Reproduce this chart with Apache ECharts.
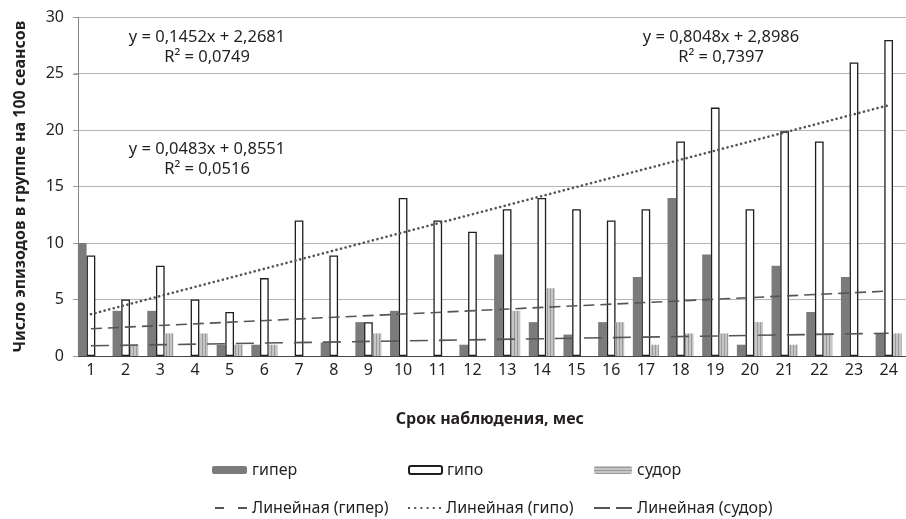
<!DOCTYPE html>
<html>
<head>
<meta charset="utf-8">
<script src="https://cdn.jsdelivr.net/npm/echarts@6/dist/echarts.min.js"></script>
<style>html,body{margin:0;padding:0;background:#fff;}#c{width:906px;height:519px;}</style>
</head>
<body>
<div id="c"></div>
<script>
// ---- data ----
const months = ['1','2','3','4','5','6','7','8','9','10','11','12','13','14','15','16','17','18','19','20','21','22','23','24'];
const giper = [10, 4, 4, 0, 1, 1, 0, 1.2, 3, 4, 0, 1, 9, 3, 1.9, 3, 7, 14, 9, 1, 8, 3.9, 7, 2];
const gipo  = [8.9, 5, 8, 5, 3.9, 6.9, 12, 8.9, 3, 14, 12, 11, 13, 14, 13, 12, 13, 19, 22, 13, 19.9, 19, 26, 28];
const sudor = [0, 1, 2, 2, 1, 1, 0, 0, 2, 0, 0, 0, 4, 6, 0, 3, 1, 2, 2, 3, 1, 2, 0, 2];
// trend-line coefficients shown on the chart [slope, intercept]
const trendGiper = [0.1452, 2.2681];
const trendGipo  = [0.8048, 2.8986];
const trendSudor = [0.0483, 0.8551];
const eqGiper = ['y = 0,1452x + 2,2681', 'R² = 0,0749'];
const eqSudor = ['y = 0,0483x + 0,8551', 'R² = 0,0516'];
const eqGipo  = ['y = 0,8048x + 2,8986', 'R² = 0,7397'];
const yTitle = 'Число эпизодов в группе на 100 сеансов';
const xTitle = 'Срок наблюдения, мес';

// ---- styles ----
const FONT = '"Noto Sans", sans-serif';
const TXT = '#231f20';
function pattern(vertical){
  const c = document.createElement('canvas');
  c.width = vertical ? 3 : 1; c.height = vertical ? 1 : 3;
  const g = c.getContext('2d');
  g.fillStyle = '#c6c6c6'; g.fillRect(0,0,c.width,c.height);
  g.fillStyle = '#999999';
  if (vertical) g.fillRect(1,0,1,1); else g.fillRect(0,1,1,1);
  return {image: c, repeat: 'repeat'};
}
const sudorFill = pattern(true);
const sudorLegendFill = pattern(false);

function trendData(coef){
  const n = months.length;
  return months.map((m,i)=> (i===0||i===n-1) ? +(coef[0]*(i+1)+coef[1]).toFixed(4) : null);
}

const chart = echarts.init(document.getElementById('c'), null, {renderer:'canvas'});
const lineColor = '#555';
const legendText = {fontFamily: FONT, fontSize: 16, color: TXT};
function lg(name, left, top, w, h, extra){
  return {
    data:[Object.assign({name:name}, extra||{})], left:left, top:top, padding:0,
    itemWidth:w, itemHeight:h, textStyle:legendText, selectedMode:false
  };
}
const dashIcon = 'path://M0,0H9V2H0Z M23,0H32V2H23Z';
const dotIcon = 'path://M0,0h2v2h-2z M6.2,0h2v2h-2z M12.4,0h2v2h-2z M18.6,0h2v2h-2z M24.8,0h2v2h-2z M31,0h2v2h-2z';
const longDashIcon = 'path://M0,0H16V2H0Z M22,0H38V2H22Z';

function eqText(lines, x, y){
  return lines.map((t,i)=>({type:'text', x:x, y:y+i*19.5,
    style:{text:t, x:0, y:0, textAlign:'center', textVerticalAlign:'middle', font:'16.5px "Noto Sans", sans-serif', fill:TXT}}));
}

chart.setOption({
  animation:false,
  backgroundColor:'#fff',
  textStyle:{fontFamily:FONT},
  grid:{left:73.6, top:17.3, width:835.2, height:338.7, containLabel:false},
  xAxis:{type:'category', data:months, boundaryGap:true,
    axisLine:{lineStyle:{color:'#444', width:1}}, axisTick:{show:false},
    axisLabel:{fontSize:16, color:TXT, margin:6, fontFamily:FONT},
    name:xTitle, nameLocation:'middle', nameGap:55,
    nameTextStyle:{fontSize:16, fontWeight:'bold', color:TXT, fontFamily:FONT}},
  yAxis:{type:'value', min:0, max:30, interval:5, offset:-4.4,
    axisLine:{show:true, lineStyle:{color:'#888', width:1}},
    axisTick:{show:true, length:5, lineStyle:{color:'#999'}},
    splitLine:{lineStyle:{color:'#b4b4b4', width:1}},
    axisLabel:{fontSize:16, color:TXT, margin:14, fontFamily:FONT},
    name:yTitle, nameLocation:'middle', nameGap:50,
    nameTextStyle:{fontSize:16, fontWeight:'bold', color:TXT, fontFamily:FONT}},
  legend:[
    lg('гипер', 212, 462, 35, 8),
    lg('гипо', 408, 462, 33, 8),
    lg('судор', 594, 462, 38, 8, {itemStyle:{color:sudorLegendFill}}),
    lg('Линейная (гипер)', 215, 500, 32, 2, {icon:dashIcon, itemStyle:{color:lineColor, borderWidth:0}}),
    lg('Линейная (гипо)', 408, 500, 33, 2, {icon:dotIcon, itemStyle:{color:lineColor, borderWidth:0}}),
    lg('Линейная (судор)', 594, 500, 38, 2, {icon:longDashIcon, itemStyle:{color:lineColor, borderWidth:0}})
  ],
  series:[
    {name:'гипер', type:'bar', data:giper, barWidth:8.7, barGap:'0%',
      itemStyle:{color:'#7b7b7d'}},
    {name:'гипо', type:'bar', data:gipo, barWidth:8.7, barGap:'0%',
      itemStyle:{color:'#ffffff', borderColor:'#1e1e1e', borderWidth:1.3}},
    {name:'судор', type:'bar', data:sudor, barWidth:8.7, barGap:'0%',
      itemStyle:{color:sudorFill}},
    {name:'Линейная (гипер)', type:'line', data:trendData(trendGiper), connectNulls:true, symbol:'none', z:5,
      lineStyle:{color:lineColor, width:1.6, type:[11,6]}, itemStyle:{color:lineColor}},
    {name:'Линейная (гипо)', type:'line', data:trendData(trendGipo), connectNulls:true, symbol:'none', z:5,
      lineStyle:{color:lineColor, width:2.6, type:[0.1,4.6], cap:'round'}, itemStyle:{color:lineColor}},
    {name:'Линейная (судор)', type:'line', data:trendData(trendSudor), connectNulls:true, symbol:'none', z:5,
      lineStyle:{color:lineColor, width:1.6, type:[18,11]}, itemStyle:{color:lineColor}}
  ],
  graphic:[].concat(eqText(eqGiper, 207, 37.5), eqText(eqSudor, 207, 149.5), eqText(eqGipo, 721, 37.5))
});
</script>
</body>
</html>
